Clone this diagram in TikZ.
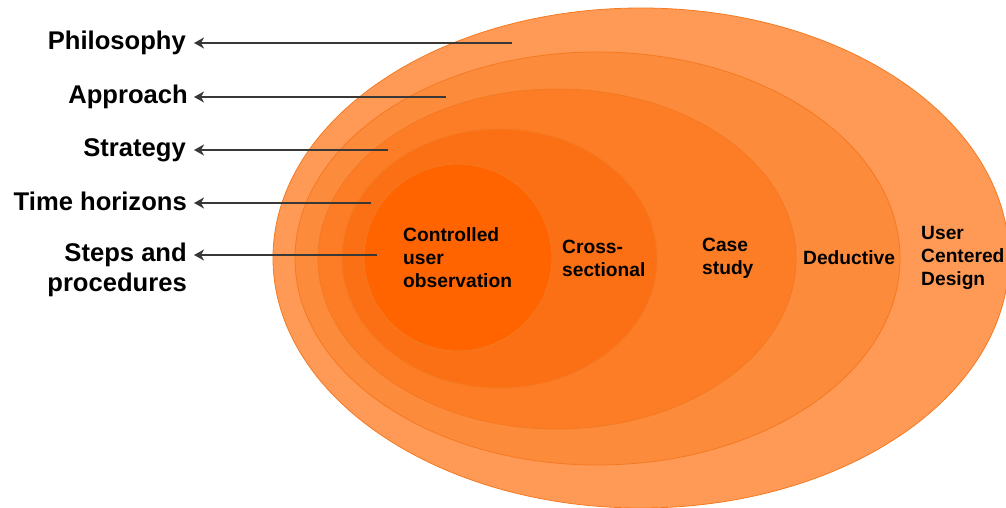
\documentclass[tikz,border=0pt]{standalone}
\usepackage{fontspec}
\setmainfont{Liberation Sans}
\usetikzlibrary{arrows.meta}
\definecolor{ringA}{HTML}{FE9A55}
\definecolor{ringB}{HTML}{FD8B3C}
\definecolor{ringC}{HTML}{FC7D26}
\definecolor{ringD}{HTML}{FB7014}
\definecolor{ringE}{HTML}{FF6400}
\definecolor{ringline}{HTML}{F47A22}
\definecolor{arrowgray}{HTML}{3A3737}
\tikzset{
  ring/.style={draw=ringline, line width=0.8pt},
  levellabel/.style={font=\bfseries\fontsize{25.6}{30}\selectfont, inner sep=0pt, align=right, anchor=base east},
  ringlabel/.style={font=\bfseries\fontsize{19.2}{23}\selectfont, inner sep=0pt, align=left, anchor=base west},
  pointer/.style={draw=arrowgray, line width=2pt, -{Stealth[length=10pt,width=11pt,inset=3pt]}}
}
\begin{document}
\begin{tikzpicture}[x=1pt,y=-1pt]
  \useasboundingbox (0,0) rectangle (1006,508);
  % nested layers, outermost first
  \begin{scope}
    \clip (0,0) rectangle (1006,508);
    \fill[ringA, ring] (641,258) ellipse [x radius=368, y radius=250];
    \fill[ringB, ring] (597.5,258.5) ellipse [x radius=302.5, y radius=206.5];
    \fill[ringC, ring] (557,259) ellipse [x radius=239, y radius=170];
    \fill[ringD, ring] (499.5,258.5) ellipse [x radius=157.5, y radius=129.5];
    \fill[ringE, ring] (458,257.5) ellipse [x radius=94, y radius=93.5];
  \end{scope}

  % names of the layers (anchored at the baseline of the last line)
  \node[levellabel] (phil) at (186,50) {Philosophy};
  \node[levellabel] (appr) at (188,104) {Approach};
  \node[levellabel] (strat) at (186,157) {Strategy};
  \node[levellabel] (time) at (187,210) {Time horizons};
  \node[levellabel] (steps) at (187,291) {Steps and\\procedures};

  % contents of the layers
  \node[ringlabel] (ctrl) at (403,287) {Controlled\\user\\observation};
  \node[ringlabel] (cross) at (562,276) {Cross-\\sectional};
  \node[ringlabel] (case) at (702,274) {Case\\study};
  \node[ringlabel] (ded) at (803,264) {Deductive};
  \node[ringlabel] (ucd) at (921,285) {User\\Centered\\Design};

  % pointers from each layer to its name
  \coordinate (pA) at (512,43);
  \coordinate (pB) at (446,97);
  \coordinate (pC) at (388,150);
  \coordinate (pD) at (371,203);
  \coordinate (pE) at (377,255);
  \draw[pointer] (pA) -- (pA -| 194,0);
  \draw[pointer] (pB) -- (pB -| 194,0);
  \draw[pointer] (pC) -- (pC -| 194,0);
  \draw[pointer] (pD) -- (pD -| 194,0);
  \draw[pointer] (pE) -- (pE -| 194,0);
\end{tikzpicture}
\end{document}
